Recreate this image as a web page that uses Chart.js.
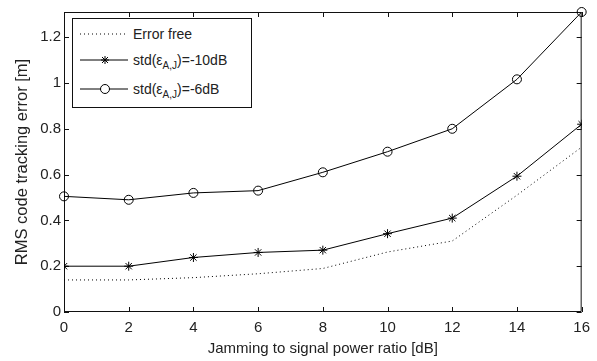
<!DOCTYPE html>
<html>
<head>
<meta charset="utf-8">
<script src="https://cdn.jsdelivr.net/npm/chart.js@4/dist/chart.umd.min.js"></script>
<style>
  body { margin: 0; background: #fff; }
  #wrap { position: relative; width: 597px; height: 361px; }
  #legenda {
    position: absolute; background: #fff; border: 1px solid #111;
    font-family: "Liberation Sans", Arial, sans-serif; font-size: 14px; color: #222;
  }
  #legenda .linha { position: absolute; left: 7px; height: 18px; display: flex; align-items: center; white-space: nowrap; }
  #legenda svg { display: block; }
  #legenda .txt { margin-left: 5px; }
  #legenda sub { font-size: 10px; vertical-align: -4px; line-height: 0; }
</style>
</head>
<body>
<div id="wrap">
  <canvas id="graficoRms" width="597" height="361"></canvas>
  <div id="legenda">
    <div class="linha" style="top:6px">
      <svg width="48" height="18"><line x1="0" y1="9" x2="48" y2="9" stroke="#000" stroke-width="1" stroke-dasharray="1,3"/></svg>
      <span class="txt">Error free</span>
    </div>
    <div class="linha" style="top:32px">
      <svg width="48" height="18"><line x1="0" y1="9" x2="48" y2="9" stroke="#000" stroke-width="1"/>
        <path d="M25 5 V13 M21 9 H29 M22 6 L28 12 M28 6 L22 12" stroke="#000" stroke-width="1" fill="none"/></svg>
      <span class="txt">std(ε<sub>A,J</sub>)=-10dB</span>
    </div>
    <div class="linha" style="top:61px">
      <svg width="48" height="18"><line x1="0" y1="9" x2="48" y2="9" stroke="#000" stroke-width="1"/>
        <circle cx="25" cy="9" r="4.5" stroke="#000" stroke-width="1" fill="#fff"/></svg>
      <span class="txt">std(ε<sub>A,J</sub>)=-6dB</span>
    </div>
  </div>
</div>
<script>
// dados
let razaoJS = [0, 2, 4, 6, 8, 10, 12, 14, 16];
let semErro = [0.14, 0.14, 0.15, 0.167, 0.19, 0.262, 0.31, 0.51, 0.72];
let std10dB = [0.20, 0.20, 0.238, 0.26, 0.27, 0.342, 0.41, 0.593, 0.82];
let std6dB = [0.505, 0.49, 0.52, 0.53, 0.61, 0.70, 0.80, 1.016, 1.31];

let ticksX = [0, 2, 4, 6, 8, 10, 12, 14, 16];
let ticksY = [0, 0.2, 0.4, 0.6, 0.8, 1, 1.2];

const fonte = { family: '"Liberation Sans", Arial, sans-serif', size: 15 };
const fonteY = { family: '"Liberation Sans", Arial, sans-serif', size: 16.5 };

function pontos(valores) {
    return razaoJS.map((x, i) => ({ x: x, y: valores[i] }));
}

// moldura estilo matlab com ticks para dentro
const moldura = {
    id: 'moldura',
    beforeDatasetsDraw(chart) {
        const { ctx, chartArea: a, scales } = chart;
        ctx.save();
        ctx.strokeStyle = '#111';
        ctx.lineWidth = 1;
        ctx.beginPath();
        ctx.rect(a.left + 0.5, a.top + 0.5, a.right - a.left - 1, a.bottom - a.top - 1);
        ticksX.forEach(v => {
            const px = Math.round(scales.x.getPixelForValue(v)) + 0.5;
            ctx.moveTo(px, a.bottom); ctx.lineTo(px, a.bottom - 5);
            ctx.moveTo(px, a.top); ctx.lineTo(px, a.top + 5);
        });
        ticksY.forEach(v => {
            const py = Math.round(scales.y.getPixelForValue(v)) + 0.5;
            ctx.moveTo(a.left, py); ctx.lineTo(a.left + 5, py);
            ctx.moveTo(a.right, py); ctx.lineTo(a.right - 5, py);
        });
        ctx.stroke();
        ctx.restore();
    },
    afterRender(chart) {
        const a = chart.chartArea;
        const leg = document.getElementById('legenda');
        leg.style.left = (a.left + 8) + 'px';
        leg.style.top = (a.top + 6) + 'px';
        leg.style.width = '178px';
        leg.style.height = '88px';
    }
};

let ctx = document.getElementById('graficoRms').getContext('2d');
let grafico = new Chart(ctx, {
    type: 'line',
    data: {
        datasets: [{
            label: 'Error free',
            data: pontos(semErro),
            borderColor: '#000',
            borderWidth: 1,
            borderDash: [1, 3],
            pointRadius: 0,
            fill: false,
            tension: 0
        }, {
            label: 'std(εA,J)=-10dB',
            data: pontos(std10dB),
            borderColor: '#000',
            borderWidth: 1,
            pointStyle: 'star',
            pointRadius: 4.5,
            pointBorderColor: '#000',
            pointBorderWidth: 1,
            fill: false,
            tension: 0
        }, {
            label: 'std(εA,J)=-6dB',
            data: pontos(std6dB),
            borderColor: '#000',
            borderWidth: 1,
            pointStyle: 'circle',
            pointRadius: 4.5,
            pointBackgroundColor: 'rgba(0,0,0,0)',
            pointBorderColor: '#000',
            pointBorderWidth: 1,
            fill: false,
            tension: 0,
            clip: false
        }]
    },
    options: {
        responsive: false,
        animation: false,
        devicePixelRatio: 1,
        layout: { padding: { top: 12, right: 12, left: 0, bottom: 0 } },
        plugins: { legend: { display: false }, tooltip: { enabled: false } },
        scales: {
            x: {
                type: 'linear',
                min: 0, max: 16,
                afterBuildTicks: s => { s.ticks = ticksX.map(v => ({ value: v })); },
                afterFit: s => { s.height = 49; },
                grid: { display: false, drawTicks: false },
                border: { display: false },
                ticks: { font: fonte, color: '#222', padding: 7, maxRotation: 0, callback: v => String(v) },
                title: { display: true, text: 'Jamming to signal power ratio [dB]', font: fonte, color: '#222', padding: { top: 0, bottom: 3 } }
            },
            y: {
                min: 0, max: 1.31,
                afterBuildTicks: s => { s.ticks = ticksY.map(v => ({ value: v })); },
                afterFit: s => { s.width = 64; },
                grid: { display: false, drawTicks: false },
                border: { display: false },
                ticks: { font: fonte, color: '#222', padding: 3, callback: v => String(Math.round(v * 10) / 10) },
                title: { display: true, text: 'RMS code tracking error [m]', font: fonteY, color: '#222', padding: { top: 13, bottom: 0 } }
            }
        }
    },
    plugins: [moldura]
});
</script>
</body>
</html>
